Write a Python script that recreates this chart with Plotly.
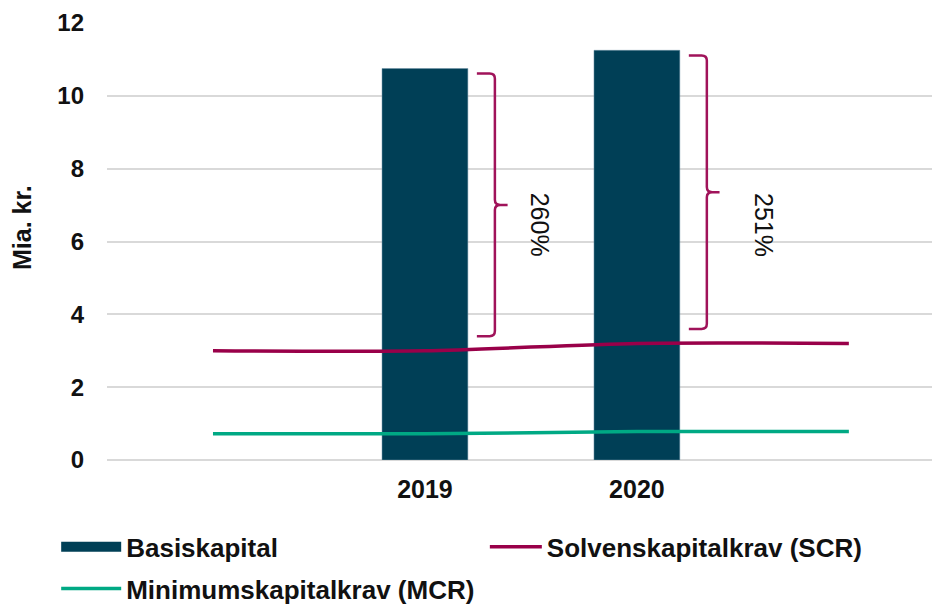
import plotly.graph_objects as go

categories = ["", "2019", "2020", ""]
basiskapital = [None, 10.75, 11.25, None]
scr = [3.0, 3.0, 3.2, 3.2]
mcr = [0.72, 0.72, 0.78, 0.78]
ratio_labels = [None, "260%", "251%", None]

BAR_COLOR = "#003f56"
SCR_COLOR = "#990049"
MCR_COLOR = "#00a984"
BRACE_COLOR = "#a0135a"
FONT = "Liberation Sans, Arial, sans-serif"
TXT = "#111111"

xpos = list(range(len(categories)))

fig = go.Figure()

fig.add_trace(go.Bar(
    x=xpos, y=basiskapital, marker_color=BAR_COLOR,
    marker_line=dict(color="#6f93a6", width=0.5),
    name="Basiskapital", showlegend=False,
))
fig.add_trace(go.Scatter(
    x=xpos, y=scr, mode="lines", name="Solvenskapitalkrav (SCR)",
    line=dict(color=SCR_COLOR, width=3.5, shape="spline", smoothing=0.8),
    legend="legend2",
))
fig.add_trace(go.Scatter(
    x=xpos, y=mcr, mode="lines", name="Minimumskapitalkrav (MCR)",
    line=dict(color=MCR_COLOR, width=3.5, shape="spline", smoothing=0.8),
    legendgroup="mcr", legendrank=2,
))
# legend-only entry so the bar key shows as a wide block
fig.add_trace(go.Scatter(
    x=[None], y=[None], mode="lines", name="Basiskapital",
    line=dict(color=BAR_COLOR, width=12), legendgroup="bk", legendrank=1,
))

# curly brackets between SCR line and bar top
label_dx = {1: 0.54, 2: 0.60}
for i, lab in enumerate(ratio_labels):
    if lab is None:
        continue
    x0 = i + 0.33
    xl = x0 - 0.085
    xr = x0 + 0.06
    yt = basiskapital[i] - 0.14
    yb = scr[i] + 0.4
    ym = (yt + yb) / 2
    rx, ry = 0.025, 0.14
    path = (
        f"M{xl},{yt} L{x0 - rx},{yt} Q{x0},{yt} {x0},{yt - ry} "
        f"L{x0},{ym + ry} Q{x0},{ym} {x0 + rx},{ym} L{xr},{ym} "
        f"M{x0 + rx},{ym} Q{x0},{ym} {x0},{ym - ry} "
        f"L{x0},{yb + ry} Q{x0},{yb} {x0 - rx},{yb} L{xl},{yb}"
    )
    fig.add_shape(type="path", path=path, xref="x", yref="y",
                  line=dict(color=BRACE_COLOR, width=2.5))
    fig.add_annotation(
        x=i + label_dx[i], y=6.45, xref="x", yref="y", text=lab,
        textangle=90, showarrow=False,
        font=dict(family=FONT, size=25, color=TXT),
    )

# y-axis title, placed a bit above the plot middle like the original
fig.add_annotation(
    x=-0.102, y=0.531, xref="paper", yref="paper", text="Mia. kr.",
    xanchor="center", yanchor="middle",
    textangle=-90, showarrow=False,
    font=dict(family=FONT, size=25, weight="bold", color=TXT),
)

# page body has an 8px default margin, so the figure is 8px smaller than the window
legend_font = dict(family=FONT, size=26, weight="bold", color=TXT)
fig.update_layout(
    width=932, height=597,
    margin=dict(l=99, r=0, t=15, b=145, autoexpand=False),
    plot_bgcolor="white", paper_bgcolor="white",
    bargap=0.595,
    font=dict(family=FONT, color=TXT),
    legend=dict(
        orientation="v", x=-0.061, y=-0.145, xanchor="left", yanchor="top",
        itemwidth=60, tracegroupgap=5, font=legend_font,
    ),
    legend2=dict(
        orientation="v", x=0.4536, y=-0.145, xanchor="left", yanchor="top",
        itemwidth=52, font=legend_font,
    ),
)
fig.update_xaxes(
    range=[-0.5, 3.43],
    tickvals=[p for p, c in zip(xpos, categories) if c],
    ticktext=[c for c in categories if c],
    showgrid=False, zeroline=False, showline=False, ticks="",
    ticklabelstandoff=12,
    tickfont=dict(family=FONT, size=25, weight="bold", color=TXT),
)
fig.update_yaxes(
    range=[0, 12], dtick=2,
    showgrid=True, gridcolor="#d9d9d9", gridwidth=1.5,
    zeroline=True, zerolinecolor="#d9d9d9", zerolinewidth=1.5,
    showline=False, ticks="", ticklabelstandoff=22,
    tickfont=dict(family=FONT, size=24, weight="bold", color=TXT),
)

fig.write_html("out.html")
